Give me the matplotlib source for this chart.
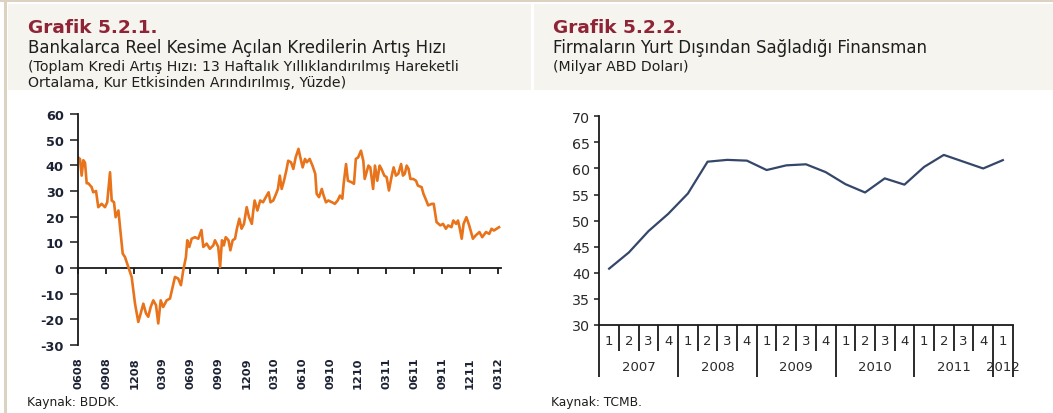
import matplotlib
matplotlib.use("Agg")
import matplotlib.pyplot as plt
from matplotlib.patches import Rectangle

plt.rcParams['font.family'] = ['DejaVu Sans']

# ---------------- data: left chart (months since June 2008, %) ----------------
credit_month = [
    0.0, 0.18, 0.36, 0.54, 0.72, 0.9, 1.07, 1.43, 1.6, 1.9, 2.14, 2.5, 2.86, 3.1, 3.4, 3.58,
    3.83, 4.0, 4.3, 4.47, 4.76, 5.0, 5.36, 5.72, 6.08, 6.43, 6.69, 6.97, 7.26, 7.5, 7.76, 8.04,
    8.33, 8.57, 8.83, 9.1, 9.47, 9.83, 10.36, 10.7, 11.0, 11.25, 11.54, 11.68, 11.9, 12.15, 12.5,
    12.86, 13.2, 13.4, 13.76, 14.1, 14.47, 14.65, 15.0, 15.2, 15.4, 15.6, 15.8, 16.1, 16.3, 16.55,
    16.8, 17.0, 17.26, 17.5, 17.76, 18.05, 18.3, 18.6, 18.76, 18.9, 19.2, 19.5, 19.8, 20.1, 20.4,
    20.6, 20.9, 21.2, 21.4, 21.6, 21.8, 22.05, 22.3, 22.5, 22.8, 23.05, 23.3, 23.6, 23.8, 24.05,
    24.3, 24.5, 24.8, 25.1, 25.4, 25.55, 25.8, 26.1, 26.3, 26.55, 26.8, 27.2, 27.5, 27.8, 28.05,
    28.3, 28.45, 28.7, 28.9, 29.3, 29.55, 29.75, 30.0, 30.3, 30.55, 30.7, 31.1, 31.3, 31.6, 31.8,
    32.05, 32.3, 32.5, 32.8, 33.05, 33.3, 33.6, 33.8, 34.05, 34.3, 34.6, 34.8, 35.0, 35.2, 35.4,
    35.6, 35.9, 36.2, 36.4, 36.8, 37.0, 37.3, 37.5, 37.9, 38.1, 38.4, 38.8, 39.1, 39.4, 39.65,
    40.0, 40.2, 40.5, 40.7, 40.9, 41.1, 41.3, 41.6, 41.9, 42.3, 42.6, 43.0, 43.3, 43.7, 44.05,
    44.3, 44.55, 44.85, 45.1,
]
credit_growth = [
    43.0, 42.5, 36.0, 42.0, 41.0, 33.0, 33.0, 31.5, 29.5, 30.0, 23.7, 25.0, 23.7, 25.6, 37.3, 26.3,
    25.6, 19.8, 22.4, 16.0, 5.6, 4.3, 0.4, -3.5, -13.9, -21.0, -17.7, -13.9, -17.7, -19.0, -15.2, -12.6,
    -14.5, -21.6, -12.6, -15.2, -12.6, -11.9, -3.5, -4.1, -6.7, -0.9, 4.3, 10.8, 8.2, 11.4, 12.0,
    11.4, 14.8, 8.2, 9.5, 7.5, 8.8, 10.8, 8.2, 0.4, 10.8, 8.8, 12.0, 10.8, 6.9, 10.8,
    11.4, 15.3, 19.2, 15.3, 17.2, 23.7, 19.8, 17.2, 22.4, 26.3, 22.4, 26.3, 25.6, 27.6, 29.5,
    25.6, 26.3, 28.9, 30.8, 36.0, 30.8, 34.0, 38.0, 41.8, 41.2, 38.6, 43.1, 46.4, 43.1, 39.2,
    42.5, 41.2, 42.5, 39.9, 36.7, 28.9, 27.6, 30.8, 28.2, 25.6, 26.3, 25.6, 25.0, 26.3, 28.2,
    27.0, 33.0, 40.5, 34.0, 33.4, 32.8, 42.5, 43.1, 45.7, 41.8, 34.7, 39.9, 39.2, 30.8, 39.9,
    34.0, 39.9, 38.6, 36.0, 35.4, 30.2, 36.0, 39.2, 36.0, 36.7, 40.5, 36.0, 36.7, 39.9, 38.6,
    34.7, 34.7, 34.0, 32.1, 31.5, 28.9, 26.3, 24.4, 25.0, 25.0, 17.9, 16.6, 17.2, 15.3, 16.6,
    15.9, 18.5, 17.2, 18.5, 15.3, 11.4, 17.2, 19.8, 16.6, 11.4, 12.7, 14.0, 12.0, 14.0, 13.3,
    15.3, 14.6, 15.3, 15.9,
]
left_tick_months = [0, 3, 6, 9, 12, 15, 18, 21, 24, 27, 30, 33, 36, 39, 42, 45]
left_tick_labels = ["0608", "0908", "1208", "0309", "0609", "0909", "1209", "0310",
                    "0610", "0910", "1210", "0311", "0611", "0911", "1211", "0312"]
left_yticks = [-30, -20, -10, 0, 10, 20, 30, 40, 50, 60]

# ---------------- data: right chart (billion USD, quarterly) ----------------
quarters = ["1", "2", "3", "4"] * 5 + ["1"]
years = ["2007", "2008", "2009", "2010", "2011", "2012"]
financing = [40.8, 43.9, 48.0, 51.3, 55.2, 61.3, 61.65, 61.5, 59.7, 60.6, 60.8,
             59.3, 57.0, 55.4, 58.1, 56.9, 60.3, 62.6, 61.3, 60.0, 61.6]
right_yticks = [30, 35, 40, 45, 50, 55, 60, 65, 70]

# ---------------- figure ----------------
W, H = 1053, 414
fig = plt.figure(figsize=(W / 100, H / 100), dpi=100)
fig.patch.set_facecolor("white")


def fx(px):
    return px / W


def fy(py):
    return 1 - py / H


def rect(x0, y0, x1, y1, color):
    fig.patches.append(Rectangle((fx(x0), fy(y1)), fx(x1) - fx(x0), fy(y0) - fy(y1),
                                 transform=fig.transFigure, facecolor=color,
                                 edgecolor="none", zorder=0))


# decorative frame / header bands
rect(0, 0, W, 2.8, "#DCD2C2")
rect(4, 0, 6.5, H, "#DCD2C2")
rect(8, 5, 531, 91, "#F5F4EF")
rect(534, 5, W, 91, "#F5F4EF")

title_color = "#8E2436"
txt_color = "#1E1E1E"

fig.text(fx(28), fy(33), "Grafik 5.2.1.", color=title_color, fontsize=13.3,
         fontweight="bold", va="baseline", ha="left")
fig.text(fx(28), fy(53), "Bankalarca Reel Kesime Açılan Kredilerin Artış Hızı",
         color=txt_color, fontsize=12, va="baseline", ha="left")
fig.text(fx(28), fy(71), "(Toplam Kredi Artış Hızı: 13 Haftalık Yıllıklandırılmış Hareketli",
         color=txt_color, fontsize=10.2, va="baseline", ha="left")
fig.text(fx(28), fy(87.5), "Ortalama, Kur Etkisinden Arındırılmış, Yüzde)",
         color=txt_color, fontsize=10.2, va="baseline", ha="left")

fig.text(fx(553), fy(33), "Grafik 5.2.2.", color=title_color, fontsize=13.3,
         fontweight="bold", va="baseline", ha="left")
fig.text(fx(553), fy(53), "Firmaların Yurt Dışından Sağladığı Finansman",
         color=txt_color, fontsize=12, va="baseline", ha="left")
fig.text(fx(553), fy(71), "(Milyar ABD Doları)",
         color=txt_color, fontsize=10.2, va="baseline", ha="left")

fig.text(fx(27), fy(406), "Kaynak: BDDK.", color=txt_color, fontsize=8.8,
         va="baseline", ha="left")
fig.text(fx(551), fy(406), "Kaynak: TCMB.", color=txt_color, fontsize=8.8,
         va="baseline", ha="left")

axis_color = "#1A1A1A"
tick_font = dict(fontsize=9.3, fontweight="bold", color="#1C2233")

# ---------------- left chart ----------------
axL = fig.add_axes([fx(78.3), fy(346), fx(500.9) - fx(78.3), fy(115) - fy(346)])
axL.plot(credit_month, credit_growth, color="#E8731A", lw=1.9, solid_joinstyle="round")
axL.set_xlim(0, 45.3)
axL.set_ylim(-30, 60)
axL.set_yticks(left_yticks)
axL.set_yticklabels([str(v) for v in left_yticks], **tick_font)
axL.tick_params(axis="y", direction="out", length=5.5, width=1.1, color=axis_color, pad=5)
for s in ["top", "right", "bottom"]:
    axL.spines[s].set_visible(False)
axL.spines["left"].set_linewidth(1.3)
axL.spines["left"].set_color(axis_color)
axL.set_xticks(left_tick_months)
axL.set_xticklabels(left_tick_labels, rotation=90, fontsize=8.2, fontweight="bold",
                    color="#1C2233", va="top")
axL.tick_params(axis="x", length=0, pad=8)
axL.set_facecolor("none")

sec = axL.secondary_xaxis(1 / 3)
sec.set_xticks(left_tick_months)
sec.set_xticklabels([])
sec.tick_params(axis="x", direction="out", length=4, width=1.3, color=axis_color)
sec.spines["bottom"].set_linewidth(1.3)
sec.spines["bottom"].set_color(axis_color)

# ---------------- right chart ----------------
n = len(financing)
xs = list(range(n))
axR = fig.add_axes([fx(599.3), fy(326), fx(1012.7) - fx(599.3), fy(117.3) - fy(326)])
axR.plot(xs, financing, color="#34476A", lw=1.6, solid_joinstyle="round")
axR.set_xlim(-0.5, n - 0.5)
axR.set_ylim(30, 70)
axR.set_yticks(right_yticks)
axR.set_yticklabels([str(v) for v in right_yticks], fontsize=10.3, color="#2A2A2A")
axR.tick_params(axis="y", direction="out", length=3.5, width=1.1, color=axis_color, pad=3)
for s in ["top", "right"]:
    axR.spines[s].set_visible(False)
for s in ["left", "bottom"]:
    axR.spines[s].set_linewidth(1.3)
    axR.spines[s].set_color(axis_color)
axR.set_facecolor("none")

boundaries = [i - 0.5 for i in range(n + 1)]
year_bounds = [b for i, b in enumerate(boundaries) if i % 4 == 0 or i == n]
axR.set_xticks(year_bounds)
axR.set_xticklabels([])
axR.set_xticks(boundaries, minor=True)
axR.tick_params(axis="x", which="major", direction="out", length=37.5, width=1.3, color=axis_color)
axR.tick_params(axis="x", which="minor", direction="out", length=18.7, width=1.3, color=axis_color)

trans = axR.get_xaxis_transform()
for i, q in enumerate(quarters):
    axR.text(i, -0.075, q, transform=trans, ha="center", va="center",
             fontsize=9.5, color="#2A2A2A", clip_on=False)
for k, yr in enumerate(years):
    start = 4 * k
    members = [i for i in range(start, min(start + 4, n))]
    cx = sum(members) / len(members)
    axR.text(cx, -0.2, yr, transform=trans, ha="center", va="center",
             fontsize=9.5, color="#2A2A2A", clip_on=False)

fig.savefig("out.png", dpi=100, facecolor="white")
